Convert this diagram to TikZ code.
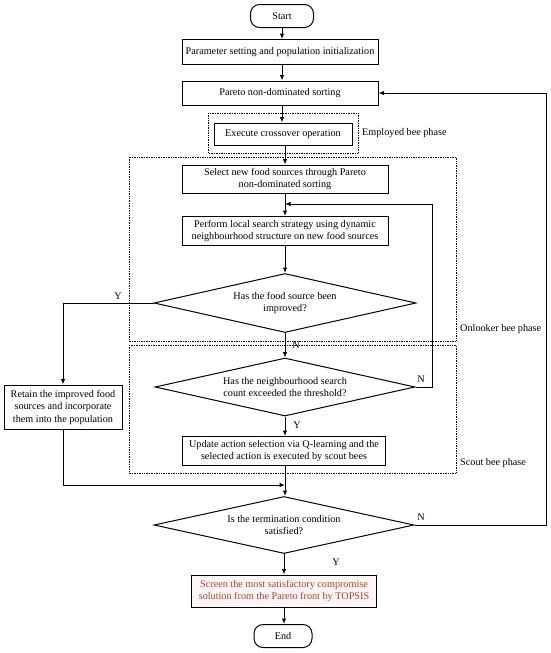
\documentclass[tikz,border=0pt]{standalone}
\usepackage{fontspec}
\setmainfont{Liberation Serif}
\usetikzlibrary{shapes.geometric,arrows.meta}
\definecolor{redtxt}{HTML}{A8442E}
\definecolor{pinkfill}{HTML}{FFF5F5}
\begin{document}
\begin{tikzpicture}[x=1pt,y=-1pt,
  every node/.style={font=\fontsize{10.2}{12.5}\selectfont},
  proc/.style={draw,line width=1pt,inner sep=1pt,align=center},
  term/.style={draw,line width=1pt,rounded corners=9pt},
  dec/.style={draw,line width=1pt,diamond,aspect=4.5,inner sep=0pt,align=center},
  phase/.style={draw,densely dotted,line width=0.7pt},
  lbl/.style={inner sep=1pt},
  flow/.style={line width=1pt,-{Latex[length=5.5pt,width=4.5pt]}},
  line/.style={line width=1pt}]
\useasboundingbox (0,0) rectangle (550,653);
% phase boxes
\draw[phase] (208,113) rectangle (358,153);
\draw[phase] (129,157) rectangle (456,341);
\draw[phase] (129,345) rectangle (456,473);
\node[lbl,anchor=west] (emp) at (361,133) {Employed bee phase};
\node[lbl,anchor=west] (onl) at (459,329) {Onlooker bee phase};
\node[lbl,anchor=west] (sct) at (459,463) {Scout bee phase};
% nodes
\node[term,minimum width=63pt,minimum height=23pt] (start) at (282,16) {Start};
\node[proc,minimum width=196pt,minimum height=25pt] (param) at (280,52) {Parameter setting and population initialization};
\node[proc,minimum width=196pt,minimum height=24pt] (pareto) at (280,93) {Pareto non-dominated sorting};
\node[proc,minimum width=138pt,minimum height=22pt] (exec) at (283,134) {Execute crossover operation};
\node[proc,minimum width=206pt,minimum height=28pt] (select) at (285,179) {Select new food sources through Pareto\\non-dominated sorting};
\node[proc,minimum width=206pt,minimum height=29pt] (perform) at (285,231) {Perform local search strategy using dynamic\\neighbourhood structure on new food sources};
\node[dec,minimum width=262pt,minimum height=59pt] (d1) at (285,303) {Has the food source been\\improved?};
\node[proc,minimum width=118pt,minimum height=44pt] (retain) at (63,407) {Retain the improved food\\sources and incorporate\\them into the population};
\node[dec,minimum width=260pt,minimum height=58pt] (d2) at (285,387) {Has the neighbourhood search\\count exceeded the threshold?};
\node[proc,minimum width=203pt,minimum height=29pt] (update) at (284,451) {Update action selection via Q-learning and the\\selected action is executed by scout bees};
\coordinate (m1) at (285,485);
\node[dec,minimum width=260pt,minimum height=57pt] (d3) at (284,525) {Is the termination condition\\satisfied?};
\node[proc,fill=pinkfill,text=redtxt,minimum width=185pt,minimum height=32pt] (screen) at (284,591) {Screen the most satisfactory compromise\\solution from the Pareto front by TOPSIS};
\node[term,minimum width=58pt,minimum height=23pt] (endn) at (283,636) {End};
% connectors
\draw[flow] (start.south) -- (start.south |- param.north);
\draw[flow] (param.south -| start.south) -- (start.south |- pareto.north);
\draw[flow] (pareto.south -| start.south) -- (start.south |- exec.north);
\draw[flow] (exec.south -| select.north) -- (select.north);
\draw[flow] (select.south) -- (perform.north);
\draw[flow] (perform.south) -- (d1.north);
\draw[flow] (d1.west) -- (retain.north |- d1.west) -- (retain.north);
\node[lbl] (y1) at (118,296) {Y};
\draw[flow] (d1.south) -- (d2.north);
\node[lbl] (n1) at (296,345) {N};
\coordinate (r2) at (432,387);
\coordinate (j1) at (285,204);
\draw[flow] (d2.east) -- (r2) -- (r2 |- j1) -- (j1);
\node[lbl] (n2) at (421,379) {N};
\draw[flow] (d2.south) -- (d2.south |- update.north);
\node[lbl] (y2) at (297,425) {Y};
\draw[line] (update.south -| m1) -- (m1);
\draw[flow] (retain.south) -- (retain.south |- m1) -- (m1);
\draw[flow] (m1) -- (d3.north -| m1);
\coordinate (r3) at (546,525);
\draw[flow] (d3.east) -- (r3) -- (r3 |- pareto.east) -- (pareto.east);
\node[lbl] (n3) at (421,517) {N};
\draw[flow] (d3.south) -- (d3.south |- screen.north);
\node[lbl] (y3) at (336,562) {Y};
\draw[flow] (screen.south) -- (screen.south |- endn.north);
\end{tikzpicture}
\end{document}
